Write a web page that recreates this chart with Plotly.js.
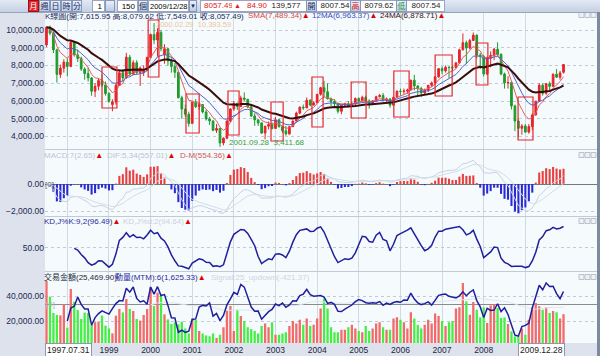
<!DOCTYPE html>
<html><head><meta charset="utf-8">
<script src="https://cdn.plot.ly/plotly-3.0.1.min.js"></script>
<style>
html,body{margin:0;padding:0;background:#dde2ec;}
#wrap{position:relative;width:600px;height:356px;overflow:hidden;font-family:"Liberation Sans","Noto Sans CJK TC",sans-serif;}
#chart{position:absolute;left:0;top:0;width:600px;height:356px;}
#tb{position:absolute;left:0;top:0;width:600px;height:12px;background:linear-gradient(#e3e9f4,#c6d0e4);border-bottom:1px solid #98a4bc;font-size:8px;line-height:11px;}
#tb span{position:absolute;top:0;height:12px;box-sizing:border-box;text-align:center;white-space:nowrap;overflow:hidden;}
.btn{background:linear-gradient(#e8f0fc,#bccbe6);border:1px solid #8797b8;color:#1a2a55;}
.wb{background:#fff;border:1px solid #9aa6bf;}
#edge{position:absolute;left:597px;top:12px;width:3px;height:344px;background:#7f8aa0;}
</style></head>
<body><div id="wrap">
<div id="chart"></div>
<div id="tb">
<span class="btn" style="left:28px;width:11px;background:#e3262c;color:#fff;border-color:#a01010;">月</span>
<span class="btn" style="left:39px;width:11px;">週</span>
<span class="btn" style="left:50px;width:11px;">日</span>
<span class="btn" style="left:61px;width:11px;">時</span>
<span class="btn" style="left:72px;width:10px;">分</span>
<span class="wb" style="left:92px;width:13px;text-align:right;padding-right:2px;">1</span>
<span class="btn" style="left:105px;width:10px;"></span>
<span class="wb" style="left:117px;width:21px;text-align:right;padding-right:2px;">150</span>
<span class="btn" style="left:138px;width:10px;">個</span>
<span class="wb" style="left:148px;width:41px;text-align:left;padding-left:1px;font-size:7.5px;">2009/12/28</span>
<span class="btn" style="left:189px;width:8px;font-size:6px;">▼</span>
<span class="wb" style="left:200px;width:245px;"></span>
<span style="left:204px;width:28px;color:#e02020;">8057.49</span>
<span style="left:233px;width:9px;color:#e02020;font-size:7px;">▲</span>
<span style="left:244px;width:26px;color:#e02020;">84.90</span>
<span style="left:271px;width:30px;color:#222;">139,577</span>
<span class="btn" style="left:306px;width:11px;">開</span>
<span style="left:320px;width:30px;color:#222;">8007.54</span>
<span class="btn" style="left:350px;width:11px;color:#e02020;">高</span>
<span style="left:364px;width:30px;color:#222;">8079.62</span>
<span class="btn" style="left:396px;width:11px;color:#20a030;">低</span>
<span style="left:411px;width:30px;color:#222;">8007.54</span>
</div>
<div id="edge"></div>
</div>
<script>
// ---- data (monthly, 1997.07 .. 2009.12) ----
const open = [9160,10150,9820,8880,7500,7850,8190,7950,9300,8600,
8400,7800,7550,7300,6550,6830,7150,6900,6420,5800,
5950,6880,7590,7300,8470,7530,8160,7600,7600,7720,
8448,9744,9436,9854,8600,8940,8265,7950,7616,6185,
5544,5256,4739,5936,5680,5797,5381,4990,4880,4350,
4450,3636,3903,4870,5551,5872,5690,6167,6098,5675,
5153,4940,4764,4191,4579,4680,4452,4942,4555,4321,
4148,4555,4872,5318,5650,5611,6045,5771,5890,6375,
6750,6522,6117,5977,5840,5420,5765,5845,5706,5845,
6140,5994,6207,6006,5819,6011,6241,6311,6033,6119,
5764,6203,6548,6532,6561,6613,7171,6847,6704,6455,
6611,6884,7021,7361,7823,7699,7901,7884,7875,8145,
8883,9287,8982,9411,9711,8586,8506,7521,8412,8572,
8920,8619,7524,7024,7046,5720,4870,4460,4591,4248,
4557,5210,5992,6890,6432,6979,6826,7509,7340,7615.95];
const high = [10200,10256,9900,8950,8050,8350,8400,9378,9350,8900,
8500,7900,7900,7350,7000,7300,7500,7100,6500,6100,
7000,7700,7800,8710,8600,8300,8300,7950,8000,8500,
9800,10393.59,10100,10000,9200,9000,8400,8150,7700,6300,
5800,5400,5950,6104,5900,5800,5500,5100,4900,4700,
4500,3950,4900,5600,6000,5900,6300,6484,6100,5700,
5300,4950,4800,4600,4850,4800,5100,5000,4600,4600,
4600,4900,5400,5700,5800,6200,6100,6000,6400,6800,
7135,7000,6200,6100,5900,5800,5900,6000,5950,6200,
6200,6300,6300,6100,6050,6300,6400,6450,6200,6150,
6250,6600,6700,6700,6700,7200,7474,6900,6800,6700,
6900,7100,7400,7850,7950,8000,7950,8000,8200,8950,
9807,9400,9500,9859,9750,8700,8600,8500,8800,9000,
9309,8700,7600,7400,7100,5800,5000,4700,4700,4700,
5300,6000,7000,7000,7000,7100,7550,7800,7700,8079.62];
const low = [9050,9700,8700,7040,7300,7600,7400,7900,8500,8200,
7700,7200,7100,6300,6220,6600,6800,6300,5900,5422,
5800,6850,7100,7250,7400,7450,7500,6850,7400,7700,
8400,9200,8500,8800,8100,8000,7600,7300,6150,5000,
5100,4555,4700,5600,5500,5300,4900,4650,4300,4200,
3411.68,3500,3850,4800,5450,5500,5650,6000,5600,5100,
4600,4600,4150,3845,4400,4400,4450,4500,4200,4044,
4100,4550,4850,5250,5500,5600,5700,5750,5880,6300,
6200,6100,5700,5600,5300,5255,5700,5650,5650,5700,
5800,5990,5950,5565,5800,6000,6200,6000,5950,5618,
5750,6180,6300,6400,6400,6600,6600,6300,6232,6400,
6500,6800,6950,7300,7500,7600,7300,7700,7850,8100,
8850,8090,8900,9400,8400,7800,7384,7450,7900,8300,
8550,7450,6700,6700,5530,4300,3955,4100,4200,4160,
4350,5200,5950,6300,6350,6600,6800,7300,7200,7549.01];
const close = [10150,9820,8880,7500,7850,8190,7950,9300,8600,8400,
7800,7550,7300,6550,6830,7150,6900,6420,5990,5950,
6880,7590,7300,8470,7530,8160,7600,7850,7720,8448,
9744,9436,9854,8950,8940,8265,7950,7616,6185,5544,
5256,4739,5936,5680,5797,5381,4990,4880,4350,4450,
3636,3903,4870,5551,5872,5690,6167,6098,5675,5153,
4940,4764,4191,4579,4680,4452,4942,4555,4321,4148,
4555,4872,5318,5650,5611,6045,5771,5890,6375,6750,
6522,6117,5977,5840,5420,5765,5845,5706,5845,6140,
5994,6207,6006,5819,6011,6241,6311,6033,6119,5764,
6203,6548,6532,6561,6613,7171,6847,6704,6455,6611,
6884,7021,7361,7823,7699,7901,7884,7875,8145,8883,
9287,8982,9411,9711,8586,8506,7521,8412,8572,8920,
8619,7524,7024,7046,5720,4870,4460,4591,4248,4557,
5210,5992,6890,6432,6979,6826,7509,7340,7582,8057.49];
const volume = [52000,39500,26400,24800,24500,33600,14600,45600,35500,28800,
21600,26700,26400,16800,19000,19500,24300,16300,14100,10100,
24300,29600,26900,37600,29600,28000,21600,20300,24800,29600,
47000,32000,42700,40800,25300,21300,17600,19000,17300,19500,
14100,10100,22000,21000,12000,10000,8500,7800,10000,6500,
9000,15000,28000,32000,12000,29000,24000,20000,15000,13500,
12000,10000,16000,18000,15000,19000,9000,9000,10000,11000,
16000,20000,18000,21000,17000,22000,16000,17000,22000,30000,
38000,30000,15000,11000,11000,13000,13000,15000,17000,14000,
12000,11000,16000,12000,14000,18000,19000,15000,13000,13000,
22000,23000,21000,19000,14000,27000,22000,17000,14000,17000,
21000,18000,26000,24000,20000,16000,19000,20000,30000,31000,
50400,35700,25000,35200,29000,22900,30900,18400,32500,33600,
30400,22400,22900,17600,11700,7700,7700,13900,9000,21000,
30900,34400,31800,29000,30900,26400,28000,27000,22000,25469.90];
const yearLabels = ['1998','1999','2000','2001','2002','2003','2004','2005','2006','2007','2008','2009'];
const hiddenYears = ['1998','2009'];   // covered by the end-date boxes in the picture
const endDates = ['1997.07.31','2009.12.28'];
const lowLabel = '2001.09.28  3,411.68';
const highLabel = '2000.02.29  10,393.59';
// hand-drawn highlight boxes: month index range and price range
const noteFrom = [16,29.3,40.2,52.3,64.7,76.5,87.8,100.1,112,123.8,135.9];
const noteTo   = [20.3,32.4,44,55.5,68.2,79.7,92.1,104.5,116.9,127.2,140.2];
const noteLow  = [5606,7352,4197,4085,3746,4535,5042,5099,6282,6901,3803];
const noteHigh = [7915,10563,6394,6563,5944,7352,7070,7690,8592,9268,6225];

// ---- derived series ----
const N = close.length;
const idx = close.map((_, i) => i);
function ema(a, n){const k=2/(n+1);const o=[];let e=a[0];for(let i=0;i<a.length;i++){e=i?e+k*(a[i]-e):a[0];o.push(e);}return o;}
const ma6 = ema(close,6), ma12 = ema(close,12), ma24 = ema(close,24);
const e5 = ema(close,5), e34 = ema(close,34);
const dif = e5.map((v,i)=>v-e34[i]);
const sig = ema(dif,7);
const hist = dif.map((v,i)=>2*(v-sig[i]));   // OSC bar = 2*(DIF-MACD)
const kx=[],ky=[];let K=50;
for(let i=8;i<N;i++){let hh=-1e9,ll=1e9;for(let j=i-8;j<=i;j++){hh=Math.max(hh,high[j]);ll=Math.min(ll,low[j]);}
  const rsv=(close[i]-ll)/(hh-ll)*100;K=K/2+rsv/2;kx.push(i);ky.push(K);}
const mx=[],my=[];for(let i=6;i<N;i++){mx.push(i);my.push(close[i]-close[i-6]);}
const sx=[],sy=[];for(let j=24;j<my.length;j++){let s=0;for(let t=j-24;t<=j;t++)s+=my[t];sx.push(mx[j]);sy.push(s/25);}
const up = close.map((c,i)=>c>=open[i]);
const janIdx = yearLabels.map(y=>(+y-1997)*12-6);
const janText = yearLabels.map(y=>hiddenYears.includes(y)?'':y);

const FONT = '"Liberation Sans","Noto Sans CJK TC",sans-serif';
const PB = '#f5fbfc';
const traces = [
 {type:'candlestick',x:idx,open:open,high:high,low:low,close:close,xaxis:'x',yaxis:'y',
  increasing:{line:{color:'#e8222a',width:1},fillcolor:'#e8222a'},
  decreasing:{line:{color:'#1f9a2c',width:1},fillcolor:'#1f9a2c'},whiskerwidth:0,hoverinfo:'skip',showlegend:false},
 {type:'scatter',mode:'lines',x:idx,y:ma6,xaxis:'x',yaxis:'y',line:{color:'#e06060',width:1},hoverinfo:'skip'},
 {type:'scatter',mode:'lines',x:idx,y:ma12,xaxis:'x',yaxis:'y',line:{color:'#5562cc',width:1},hoverinfo:'skip'},
 {type:'scatter',mode:'lines',x:idx,y:ma24,xaxis:'x',yaxis:'y',line:{color:'#3c0c0c',width:2},hoverinfo:'skip'},
 {type:'bar',x:idx,y:hist,xaxis:'x2',yaxis:'y2',width:0.6,marker:{color:hist.map(v=>v>=0?'#e84040':'#2b2bd6'),line:{width:0}},hoverinfo:'skip'},
 {type:'scatter',mode:'lines',x:idx,y:dif,xaxis:'x2',yaxis:'y2',line:{color:'#c6d3e3',width:1},hoverinfo:'skip'},
 {type:'scatter',mode:'lines',x:idx,y:sig,xaxis:'x2',yaxis:'y2',line:{color:'#d3dde9',width:1},hoverinfo:'skip'},
 {type:'scatter',mode:'lines',x:kx,y:ky,xaxis:'x3',yaxis:'y3',line:{color:'#1f1f9e',width:1.5},hoverinfo:'skip'},
 {type:'bar',x:idx,y:volume,xaxis:'x4',yaxis:'y4',width:0.66,marker:{color:up.map(u=>u?'#f26a6a':'#44ee44'),line:{width:0}},hoverinfo:'skip'},
 {type:'scatter',mode:'lines',x:sx,y:sy,xaxis:'x4',yaxis:'y5',line:{color:'#dfe5ee',width:1},hoverinfo:'skip'},
 {type:'scatter',mode:'lines',x:mx,y:my,xaxis:'x4',yaxis:'y5',line:{color:'#1f1f9e',width:1.5},hoverinfo:'skip'}
];

const XR = [-0.43, 158.65];
function xa(anchor, labels){return {anchor:anchor,range:XR,tickvals:janIdx,ticktext:janText,showticklabels:labels,
  showgrid:true,gridcolor:'#d3d9e2',gridwidth:1,zeroline:false,showline:false,ticks:'',
  tickfont:{size:8.5,color:'#1c2440',family:FONT},fixedrange:true,rangeslider:{visible:false}};}
function ya(dom, range, vals){return {domain:dom,range:range,tickvals:vals,tickformat:',.2f',showgrid:true,gridcolor:'#c3cad5',griddash:'dot',
  zeroline:false,showline:false,ticks:'',tickfont:{size:8.5,color:'#1c2a50',family:FONT},fixedrange:true};}
const py = p => (343-p)/330, px = p => (p-45)/552;

const shapes = [
 {type:'rect',xref:'paper',yref:'paper',x0:0,x1:1,y0:0,y1:1,fillcolor:PB,line:{width:0},layer:'below'}
];
[149.5,216.5,271.5].forEach(p=>shapes.push({type:'line',xref:'paper',yref:'paper',x0:0,x1:1,y0:py(p),y1:py(p),line:{color:'#c2cad6',width:1}}));
for(let b=0;b<noteFrom.length;b++) shapes.push({type:'rect',xref:'x',yref:'y',x0:noteFrom[b],x1:noteTo[b],y0:noteLow[b],y1:noteHigh[b],line:{color:'#e3262c',width:1.2},fillcolor:'rgba(0,0,0,0)'});
[15,155,221,277].forEach(p=>{for(let k=0;k<3;k++)shapes.push({type:'rect',xref:'paper',yref:'paper',x0:px(579+6*k),x1:px(584+6*k),y0:py(p+2.5),y1:py(p-2.5),line:{color:'#b9c1cd',width:1},fillcolor:'#eef2f6'});});

const annotations = [];
function A(x,y,text,color,size,extra){annotations.push(Object.assign({xref:'paper',yref:'paper',x:px(x),y:py(y),xanchor:'left',yanchor:'middle',
  text:text,showarrow:false,borderpad:0,font:{size:size||8,color:color,family:FONT}},extra||{}));}
const TRI = '<span style="color:#e00000">▲</span>';
// max / min labels tied to the data
let hi=0,lo=0;for(let i=0;i<N;i++){if(high[i]>high[hi])hi=i;if(low[i]<low[lo])lo=i;}
annotations.push({xref:'x',yref:'y',x:hi,y:high[hi],xanchor:'left',yanchor:'middle',xshift:1,yshift:-1,text:highLabel,showarrow:false,borderpad:0,font:{size:7.5,color:'#efc39a',family:FONT}});
annotations.push({xref:'x',yref:'y',x:lo,y:low[lo],xanchor:'left',yanchor:'middle',xshift:8,yshift:4,text:lowLabel,showarrow:false,borderpad:0,font:{size:8,color:'#3aa040',family:FONT}});
A(44,16,'K線圖(開:7,615.95 高:8,079.62 低:7,549.01 收:8,057.49)','#1c2a5c');
A(247,16,'SMA(7,489.34)'+TRI,'#d84848');
A(311,16,'12MA(6,963.37)'+TRI,'#3c4cc0');
A(379,16,'24MA(6,878.71)'+TRI,'#3a1010');
A(43,155,'MACD:7(2.65)'+TRI,'#b6c5d8');
A(106,155,'DIF:5,34(557.01)'+TRI,'#b6c5d8');
A(179,155,'D-M(554.36)'+TRI,'#d05858');
A(44,184,'[0]','#606060');
A(43,221,'KD,J%K:9,2(96.49)'+TRI,'#2a2aa0');
A(122,221,'KD,J%d:2(94.64)'+TRI,'#c9d1e0');
A(43,277,'交易金額(25,469.90)','#202840');
A(114,277,'動量(MTM):6(1,625.33)'+TRI,'#2a2aa0');
A(210,277,'Signal:25_updown(-421.37)','#cdd5e2');
A(45,304,'[0]','#b0b8c8');
annotations.push({xref:'x',yref:'paper',x:0,y:py(350),xanchor:'left',yanchor:'middle',xshift:-1,text:endDates[0],showarrow:false,bgcolor:'#ffffff',bordercolor:'#8f98aa',borderwidth:1,borderpad:1,font:{size:8.5,color:'#222',family:FONT}});
annotations.push({xref:'x',yref:'paper',x:N-1,y:py(350),xanchor:'right',yanchor:'middle',xshift:1,text:endDates[1],showarrow:false,bgcolor:'#ffffff',bordercolor:'#8f98aa',borderwidth:1,borderpad:1,font:{size:8.5,color:'#222',family:FONT}});

const layout = {
 width:600,height:356,margin:{l:45,r:3,t:13,b:13},paper_bgcolor:'#dde2ec',plot_bgcolor:PB,showlegend:false,bargap:0.3,
 font:{family:FONT},
 xaxis:xa('y',false),xaxis2:xa('y2',false),xaxis3:xa('y3',false),xaxis4:xa('y4',true),
 yaxis:ya([py(149),1],[3296,10958],[4000,5000,6000,7000,8000,9000,10000]),
 yaxis2:Object.assign(ya([py(216),py(150)],[-2370,2519],[0,-2000]),{zeroline:true,zerolinecolor:'#777',zerolinewidth:1}),
 yaxis3:ya([py(271),py(217)],[1,116],[50]),
 yaxis4:ya([0,py(272)],[2400,59200],[20000,40000]),
 yaxis5:{overlaying:'y4',anchor:'x4',side:'right',range:[-5065,4156],showticklabels:false,showgrid:false,zeroline:true,zerolinecolor:'#8c8c8c',zerolinewidth:1,fixedrange:true},
 shapes:shapes,annotations:annotations
};
Plotly.newPlot('chart',traces,layout,{displayModeBar:false,staticPlot:true});
</script>
</body></html>
